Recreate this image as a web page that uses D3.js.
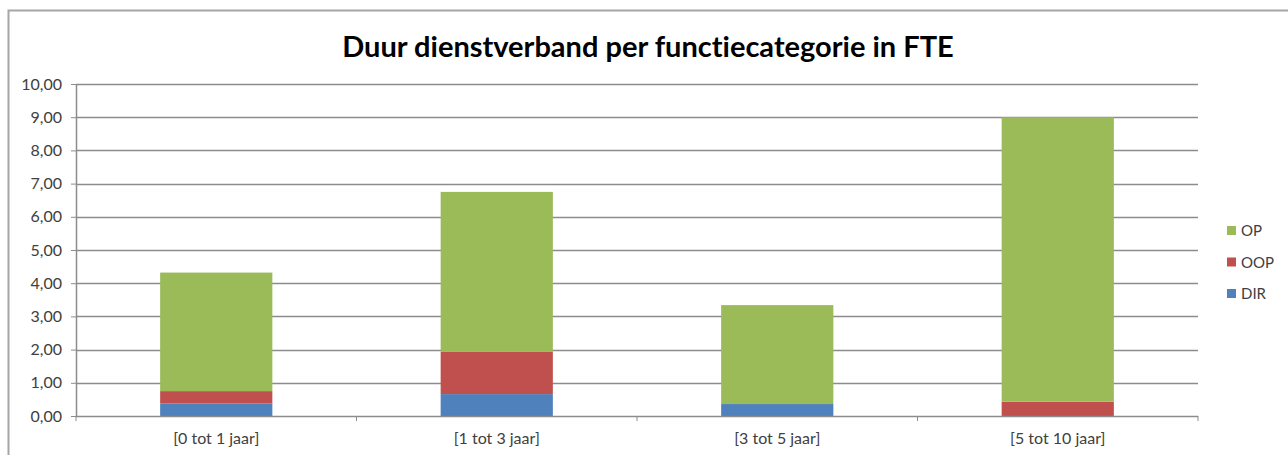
<!DOCTYPE html>
<html>
<head>
<meta charset="utf-8">
<script src="https://cdn.jsdelivr.net/npm/d3@7"></script>
<style>
  body { margin: 0; background: #fff; }
  text { font-family: Lato, "Open Sans", sans-serif; font-variant-ligatures: none; }
</style>
</head>
<body>
<svg id="chart" width="1288" height="455"></svg>
<script>
var categories = ["[0 tot 1 jaar]", "[1 tot 3 jaar]", "[3 tot 5 jaar]", "[5 tot 10 jaar]"];
var dir = [0.38, 0.66, 0.36, 0.00];
var oop = [0.37, 1.27, 0.00, 0.43];
var op  = [3.57, 4.82, 2.98, 8.57];
var seriesNames = ["DIR", "OOP", "OP"];
var colors = ["#4F81BD", "#C0504D", "#9BBB59"];
var yTicks = [0, 1, 2, 3, 4, 5, 6, 7, 8, 9, 10];

var svg = d3.select("#chart");

// chart frame
svg.append("path")
  .attr("d", "M8.5,460 V10.5 H1290")
  .attr("fill", "none")
  .attr("stroke", "#a6a6a6")
  .attr("stroke-width", 2);

svg.append("text")
  .attr("x", 648).attr("y", 57)
  .attr("text-anchor", "middle")
  .attr("font-size", "29px")
  .attr("font-weight", "bold")
  .attr("fill", "#000")
  .text("Duur dienstverband per functiecategorie in FTE");

var plotLeft = 76, plotRight = 1198, plotTop = 84, plotBottom = 416;

var x = d3.scaleBand().domain(categories).range([plotLeft, plotRight]).paddingInner(0.6).paddingOuter(0.3);
var y = d3.scaleLinear().domain([0, 10]).range([plotBottom, plotTop]);

// gridlines
svg.append("g").selectAll("line")
  .data(yTicks.slice(1))
  .enter().append("line")
  .attr("x1", plotLeft).attr("x2", plotRight)
  .attr("y1", function(d){ return Math.round(y(d)) + 0.5; })
  .attr("y2", function(d){ return Math.round(y(d)) + 0.5; })
  .attr("stroke", "#8c8c8c")
  .attr("stroke-width", 1.3);

// stacked bars
var rows = categories.map(function(c, i){ return {cat: c, DIR: dir[i], OOP: oop[i], OP: op[i]}; });
var stack = d3.stack().keys(seriesNames)(rows);

svg.append("g").selectAll("g")
  .data(stack)
  .enter().append("g")
  .attr("fill", function(d, i){ return colors[i]; })
  .selectAll("rect")
  .data(function(d){ return d; })
  .enter().append("rect")
  .attr("x", function(d){ return x(d.data.cat); })
  .attr("width", x.bandwidth())
  .attr("y", function(d){ return y(d[1]); })
  .attr("height", function(d){ return y(d[0]) - y(d[1]); });

// y axis
var yAxis = d3.axisLeft(y).tickValues(yTicks).tickSize(5).tickSizeOuter(0)
  .tickFormat(function(d){ return d3.format(".2f")(d).replace(".", ","); });
var ya = svg.append("g").attr("transform", "translate(" + plotLeft + ",0)").call(yAxis);
ya.select(".domain").attr("stroke", "#8c8c8c").attr("stroke-width", 1.5);
ya.selectAll(".tick line").attr("stroke", "#8c8c8c");
ya.selectAll("text").attr("font-size", "16px").attr("fill", "#404040").attr("x", -14);

// x axis line + boundary ticks
var xa = svg.append("g");
xa.append("line")
  .attr("x1", plotLeft).attr("x2", plotRight)
  .attr("y1", plotBottom + 0.5).attr("y2", plotBottom + 0.5)
  .attr("stroke", "#8c8c8c").attr("stroke-width", 1.5);
xa.selectAll(".bt")
  .data(d3.range(categories.length + 1))
  .enter().append("line")
  .attr("x1", function(i){ return plotLeft + i * (plotRight - plotLeft) / categories.length; })
  .attr("x2", function(i){ return plotLeft + i * (plotRight - plotLeft) / categories.length; })
  .attr("y1", plotBottom).attr("y2", plotBottom + 5)
  .attr("stroke", "#8c8c8c");
xa.selectAll("text")
  .data(categories)
  .enter().append("text")
  .attr("x", function(d){ return x(d) + x.bandwidth() / 2; })
  .attr("y", plotBottom + 28)
  .attr("text-anchor", "middle")
  .attr("font-size", "16px")
  .attr("fill", "#404040")
  .text(function(d){ return d; });

// legend
var legendItems = ["OP", "OOP", "DIR"];
var legendColors = ["#9BBB59", "#C0504D", "#4F81BD"];
var lg = svg.append("g").attr("transform", "translate(1227,226)");
legendItems.forEach(function(name, i){
  var g = lg.append("g").attr("transform", "translate(0," + (i * 31.5) + ")");
  g.append("rect").attr("width", 9).attr("height", 9).attr("fill", legendColors[i]);
  g.append("text").attr("x", 14).attr("y", 10).attr("font-size", "15px").attr("fill", "#404040").text(name);
});
</script>
</body>
</html>
